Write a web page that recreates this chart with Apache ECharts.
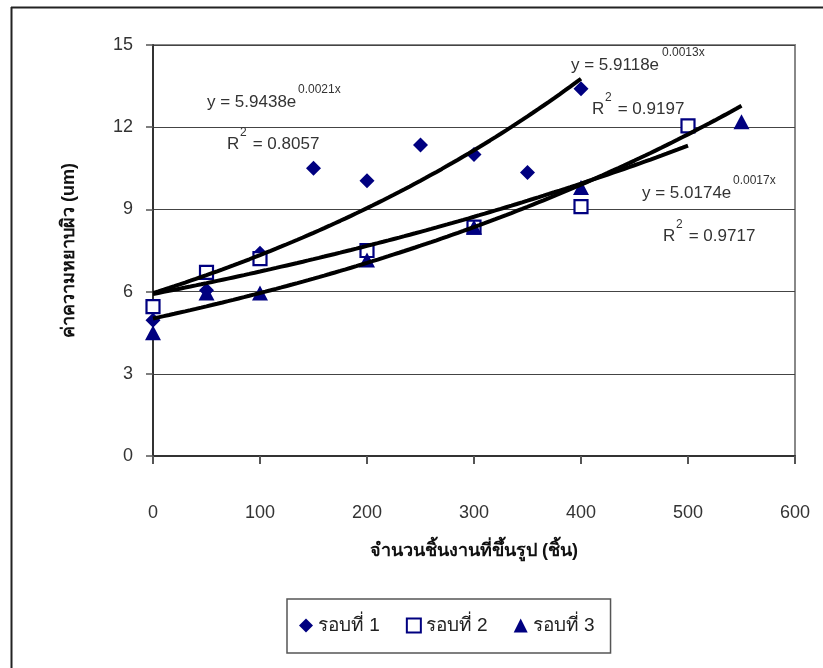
<!DOCTYPE html>
<html><head><meta charset="utf-8">
<script src="https://cdn.jsdelivr.net/npm/echarts@6/dist/echarts.min.js"></script>
<style>html,body{margin:0;padding:0;background:#fff}#c{width:823px;height:668px}</style>
</head><body><div id="c"></div>
<script>
// ---- data ----
const xRound1 = [0, 50, 100, 150, 200, 250, 300, 350, 400];
const yRound1 = [4.95, 6.05, 7.4, 10.5, 10.05, 11.35, 11.0, 10.35, 13.4];
const xRound2 = [0, 50, 100, 200, 300, 400, 500];
const yRound2 = [5.45, 6.7, 7.2, 7.5, 8.35, 9.1, 12.05];
const xRound3 = [0, 50, 100, 200, 300, 400, 550];
const yRound3 = [4.5, 5.95, 5.95, 7.15, 8.35, 9.8, 12.2];
const seriesNames = ['รอบที่ 1', 'รอบที่ 2', 'รอบที่ 3'];
// exponential trendlines printed on the chart: y = a * e^(b x)
const trendA = [5.9438, 5.9118, 5.0174];
const trendB = [0.0021, 0.0013, 0.0017];
const trendR2 = ['0.8057', '0.9197', '0.9717'];
const trendXmax = [400, 500, 550];
const xTickMin = 0, xTickMax = 600, xTickStep = 100;
const yTickMin = 0, yTickMax = 15, yTickStep = 3;
const xTitle = 'จำนวนชิ้นงานที่ขึ้นรูป (ชิ้น)';
const yTitle = 'ค่าความหยาบผิว (um)';

const FONT = '"Liberation Sans", Arial, "DejaVu Sans", sans-serif';
const NAVY = '#000080';
const zip = (xs, ys) => xs.map((x, i) => [x, ys[i]]);
function trendPoints(k) {
  const pts = [];
  for (let x = 0; x <= trendXmax[k]; x += 5) pts.push([x, trendA[k] * Math.exp(trendB[k] * x)]);
  return pts;
}

const chart = echarts.init(document.getElementById('c'), null, {renderer: 'canvas'});

function eqText(k, left, top, rLeft, rTop) {
  const a = trendA[k].toFixed(4), b = trendB[k].toFixed(4) + 'x';
  const st = {fontFamily: FONT, fontSize: 17, fill: '#333'};
  const sup = {fontFamily: FONT, fontSize: 12, fill: '#333'};
  return [
    {type: 'text', left: left, top: top, style: Object.assign({text: 'y = ' + a + 'e'}, st), z: 20},
    {type: 'text', left: left + 91, top: top - 10, style: Object.assign({text: b}, sup), z: 20},
    {type: 'text', left: rLeft, top: rTop, style: Object.assign({text: 'R'}, st), z: 20},
    {type: 'text', left: rLeft + 13, top: rTop - 9, style: Object.assign({text: '2'}, sup), z: 20},
    {type: 'text', left: rLeft + 21, top: rTop, style: Object.assign({text: ' = ' + trendR2[k]}, st), z: 20}
  ];
}

const option = {
  backgroundColor: '#fff',
  animation: false,
  grid: {left: 153, right: 28, top: 45, bottom: 212, show: true, borderColor: '#888', borderWidth: 2, backgroundColor: 'transparent'},
  xAxis: {
    type: 'value', min: xTickMin, max: xTickMax, interval: xTickStep,
    axisLine: {show: true, onZero: false, lineStyle: {color: '#333', width: 2}},
    axisTick: {show: true, length: 8, lineStyle: {color: '#555', width: 2}},
    axisLabel: {color: '#333', fontSize: 18, fontFamily: FONT, margin: 48},
    splitLine: {show: false},
    name: xTitle, nameLocation: 'middle', nameGap: 86,
    nameTextStyle: {fontSize: 18, fontWeight: 'bold', color: '#111', fontFamily: FONT}
  },
  yAxis: {
    type: 'value', min: yTickMin, max: yTickMax, interval: yTickStep,
    axisLine: {show: true, lineStyle: {color: '#333', width: 2}},
    axisTick: {show: true, length: 7, lineStyle: {color: '#555', width: 1.5}},
    axisLabel: {color: '#333', fontSize: 18, fontFamily: FONT, margin: 20},
    splitLine: {show: true, lineStyle: {color: '#444', width: 1.2}},
    name: yTitle, nameLocation: 'middle', nameGap: 75, nameRotate: 90,
    nameTextStyle: {fontSize: 18, fontWeight: 'bold', color: '#111', fontFamily: FONT}
  },
  legend: {
    left: 287, top: 599, width: 340,
    padding: [17, 16, 18, 12],
    borderColor: '#555', borderWidth: 1.5,
    itemGap: 26, itemWidth: 14, itemHeight: 14,
    textStyle: {fontSize: 19, color: '#222', fontFamily: FONT},
    data: seriesNames
  },
  series: [
    {name: seriesNames[0], type: 'scatter', data: zip(xRound1, yRound1), symbol: 'diamond', symbolSize: [15, 15],
     itemStyle: {color: NAVY, opacity: 1}, z: 3},
    {name: seriesNames[1], type: 'scatter', data: zip(xRound2, yRound2), symbol: 'rect', symbolSize: [13, 13],
     itemStyle: {color: '#fff', borderColor: NAVY, borderWidth: 2.2, opacity: 1}, z: 4},
    {name: seriesNames[2], type: 'scatter', data: zip(xRound3, yRound3), symbol: 'triangle', symbolSize: [16, 15],
     itemStyle: {color: NAVY, opacity: 1}, z: 5},
  ].concat([0, 1, 2].map(k => ({
    name: 'trend' + k, type: 'line', data: trendPoints(k), showSymbol: false, symbol: 'none',
    lineStyle: {color: '#000', width: 4}, z: 6, silent: true
  }))),
  graphic: [
    {type: 'line', shape: {x1: 11, y1: 7.5, x2: 823, y2: 7.5}, style: {stroke: '#222', lineWidth: 2}, z: 1},
    {type: 'line', shape: {x1: 11.5, y1: 7, x2: 11.5, y2: 668}, style: {stroke: '#222', lineWidth: 2}, z: 1}
  ].concat(eqText(0, 207, 94, 227, 136))
   .concat(eqText(1, 571, 57, 592, 101))
   .concat(eqText(2, 642, 185, 663, 228))
};
chart.setOption(option);
</script>
</body></html>
